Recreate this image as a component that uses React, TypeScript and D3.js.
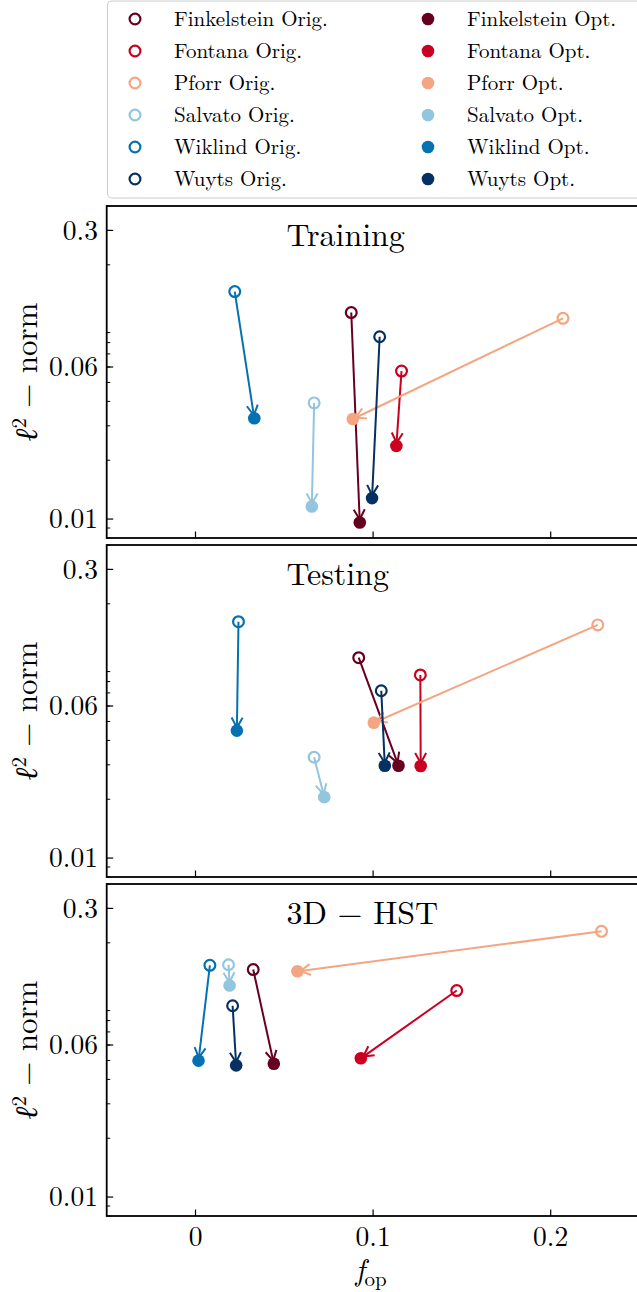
import React from 'react';
import * as d3 from 'd3';

const surveys = ['Finkelstein', 'Fontana', 'Pforr', 'Salvato', 'Wiklind', 'Wuyts'];
const surveyColors = ['#67001f', '#ca0020', '#f4a582', '#92c5de', '#0571b0', '#053061'];
const panelTitles = ['Training', 'Testing', '3D \u2212 HST'];

// order: Finkelstein, Fontana, Pforr, Salvato, Wiklind, Wuyts
const trainOrigX = [0.0877, 0.116, 0.2069, 0.0668, 0.0221, 0.1037];
const trainOrigY = [0.114, 0.0572, 0.1065, 0.0393, 0.146, 0.0857];
const trainOptX = [0.0925, 0.1131, 0.0886, 0.0655, 0.0331, 0.0994];
const trainOptY = [0.0096, 0.0237, 0.0325, 0.0116, 0.0328, 0.0128];

const testOrigX = [0.0919, 0.1266, 0.2265, 0.0668, 0.0242, 0.1046];
const testOrigY = [0.106, 0.0865, 0.156, 0.0328, 0.162, 0.0718];
const testOptX = [0.1143, 0.1268, 0.1004, 0.0725, 0.0233, 0.1066];
const testOptY = [0.0297, 0.0296, 0.0493, 0.0205, 0.0449, 0.0297];

const hstOrigX = [0.0325, 0.1471, 0.2286, 0.0186, 0.0081, 0.0209];
const hstOrigY = [0.146, 0.114, 0.229, 0.1545, 0.1535, 0.0953];
const hstOptX = [0.0441, 0.0931, 0.0574, 0.0192, 0.0017, 0.0229];
const hstOptY = [0.0481, 0.0513, 0.143, 0.121, 0.0499, 0.0472];

const xTicks = [0, 0.1, 0.2];
const xTickLabels = ['0', '0.1', '0.2'];
const yMajorTicks = [0.3, 0.06, 0.01];
const yMajorLabels = ['0.3', '0.06', '0.01'];

const panelData = [
  { ox: trainOrigX, oy: trainOrigY, px: trainOptX, py: trainOptY },
  { ox: testOrigX, oy: testOrigY, px: testOptX, py: testOptY },
  { ox: hstOrigX, oy: hstOrigY, px: hstOptX, py: hstOptY },
];

const FONT = "'Latin Modern Roman', 'Liberation Serif', serif";
const W = 637;
const H = 1292;
const left = 106.7;
const right = 639.5;
const panelTops = [206, 545, 884];
const panelH = 332;

const yMinor: number[] = [];
for (let e = -3; e <= -1; e++) {
  for (let k = 2; k <= 9; k++) {
    const v = +(k * Math.pow(10, e)).toPrecision(3);
    if (v >= 0.008 && v <= 0.4) yMinor.push(v);
  }
}

const txt = (size: number, extra: React.CSSProperties = {}): React.CSSProperties => ({
  fontFamily: FONT,
  fontSize: size,
  ...extra,
});

export default function App() {
  const x = d3.scaleLinear().domain([-0.05, 0.25]).range([left, right]);
  const rOpen = 5.4;
  const rFill = 6.3;

  const panels = panelTitles.map((title, pi) => {
    const top = panelTops[pi];
    const y = d3.scaleLog().domain([0.008, 0.4]).range([top + panelH, top]);
    const d = panelData[pi];
    const arrows = surveys.map((s, i) => {
      const x1 = x(d.ox[i]);
      const y1 = y(d.oy[i]);
      const x2c = x(d.px[i]);
      const y2c = y(d.py[i]);
      const dx = x2c - x1;
      const dy = y2c - y1;
      const len = Math.sqrt(dx * dx + dy * dy);
      const ux = dx / len;
      const uy = dy / len;
      const shrink = 3;
      const x2 = x2c - ux * shrink;
      const y2 = y2c - uy * shrink;
      const hl = 10;
      const hw = 5.5;
      const bx = x2 - ux * hl;
      const by = y2 - uy * hl;
      const nx = -uy;
      const ny = ux;
      const head = `M${bx + nx * hw},${by + ny * hw} L${x2},${y2} L${bx - nx * hw},${by - ny * hw}`;
      return (
        <g key={s} stroke={surveyColors[i]} strokeWidth={2} fill="none">
          <line x1={x1} y1={y1} x2={x2} y2={y2} />
          <path d={head} strokeLinejoin="miter" />
        </g>
      );
    });
    return (
      <g key={title}>
        <rect x={left} y={top} width={right - left} height={panelH} fill="white" />
        <g clipPath={`url(#clip${pi})`}>
          {arrows}
          {surveys.map((s, i) => (
            <circle key={'o' + s} cx={x(d.ox[i])} cy={y(d.oy[i])} r={rOpen} fill="none" stroke={surveyColors[i]} strokeWidth={2.2} />
          ))}
          {surveys.map((s, i) => (
            <circle key={'p' + s} cx={x(d.px[i])} cy={y(d.py[i])} r={rFill} fill={surveyColors[i]} />
          ))}
        </g>
        {xTicks.map((t) => (
          <line key={'xt' + t} x1={x(t)} x2={x(t)} y1={top + panelH} y2={top + panelH - 6.5} stroke="black" strokeWidth={1.2} />
        ))}
        {yMinor.map((t) => (
          <line key={'ym' + t} x1={left} x2={left + 3.5} y1={y(t)} y2={y(t)} stroke="black" strokeWidth={1} />
        ))}
        {yMajorTicks.map((t, k) => (
          <g key={'yM' + t}>
            <line x1={left} x2={left + 6.5} y1={y(t)} y2={y(t)} stroke="black" strokeWidth={1.2} />
            <text x={98} y={y(t)} dy="0.34em" textAnchor="end" style={txt(27.5)} fill="black">
              {yMajorLabels[k]}
            </text>
          </g>
        ))}
        <rect x={left} y={top} width={right - left} height={panelH} fill="none" stroke="black" strokeWidth={1.8} />
        <text x={286.5} y={top + 40} style={txt(32)} fill="black">
          {title}
        </text>
        <text
          transform={`translate(37, ${top + panelH / 2}) rotate(-90)`}
          textAnchor="middle"
          style={txt(31)}
          fill="black"
        >
          <tspan style={{ fontStyle: 'italic' }}>{'\u2113'}</tspan>
          <tspan style={{ fontSize: 21 }} dy={-11}>2</tspan>
          <tspan dy={11}>{' \u2212 norm'}</tspan>
        </text>
      </g>
    );
  });

  const legendRows = [19, 51, 83, 115, 147, 179];

  return (
    <svg width={W} height={H} style={{ position: 'absolute', left: 0, top: 0, background: 'white' }}>
      <defs>
        {panelTops.map((t, i) => (
          <clipPath id={`clip${i}`} key={i}>
            <rect x={left} y={t} width={right - left} height={panelH} />
          </clipPath>
        ))}
      </defs>
      <rect x={0} y={0} width={W} height={H} fill="white" />
      <rect x={107.5} y={1} width={545} height={197} rx={4} fill="white" stroke="#cccccc" strokeWidth={1} />
      {surveys.map((s, i) => (
        <g key={'leg' + s}>
          <circle cx={135} cy={legendRows[i]} r={rOpen} fill="none" stroke={surveyColors[i]} strokeWidth={2.2} />
          <text x={174} y={legendRows[i]} dy="0.33em" style={txt(21)} fill="black">
            {s + ' Orig.'}
          </text>
          <circle cx={428} cy={legendRows[i]} r={rFill} fill={surveyColors[i]} />
          <text x={467} y={legendRows[i]} dy="0.33em" style={txt(21)} fill="black">
            {s + ' Opt.'}
          </text>
        </g>
      ))}
      {panels}
      {xTicks.map((t, k) => (
        <text key={'xl' + t} x={x(t)} y={1246} textAnchor="middle" style={txt(27.5)} fill="black">
          {xTickLabels[k]}
        </text>
      ))}
      <text x={x(0.1) - 2} y={1280} textAnchor="middle" style={txt(30)} fill="black">
        <tspan style={{ fontStyle: 'italic' }}>f</tspan>
        <tspan style={{ fontSize: 21 }} dy={6}>op</tspan>
      </text>
    </svg>
  );
}
